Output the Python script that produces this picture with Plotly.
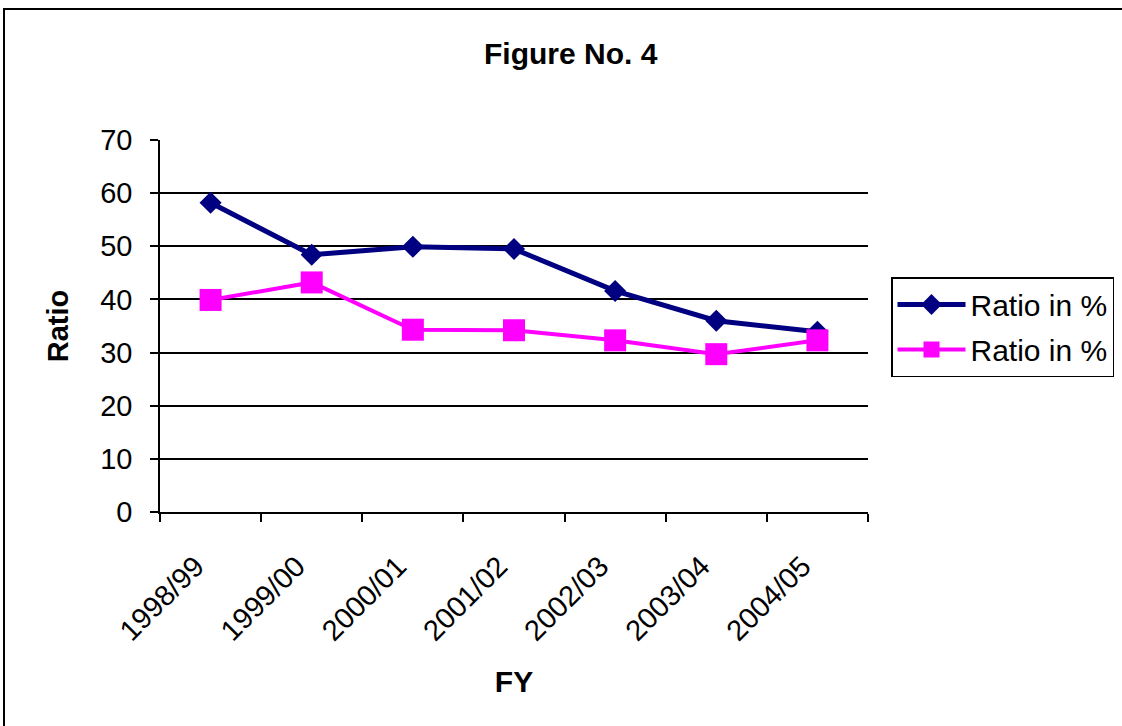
import plotly.graph_objects as go

categories = ["1998/99", "1999/00", "2000/01", "2001/02", "2002/03", "2003/04", "2004/05"]
series_a = [58.2, 48.4, 49.9, 49.5, 41.6, 36.0, 33.9]
series_b = [39.9, 43.2, 34.3, 34.2, 32.3, 29.7, 32.3]
series_names = ["Ratio in %", "Ratio in %"]
y_ticks = [0, 10, 20, 30, 40, 50, 60, 70]

FONT = "Liberation Sans, Arial, sans-serif"

fig = go.Figure()
fig.add_trace(go.Scatter(
    x=categories, y=series_a, name=series_names[0], mode="lines+markers",
    legendgroup="a",
    line=dict(color="#000080", width=5),
    marker=dict(symbol="diamond", size=17, color="#000080"),
))
fig.add_trace(go.Scatter(
    x=categories, y=series_b, name=series_names[1], mode="lines+markers",
    legendgroup="b",
    line=dict(color="#FF00FF", width=4),
    marker=dict(symbol="square", size=22, color="#FF00FF"),
))

fig.update_layout(
    width=1122, height=726,
    margin=dict(l=160, r=254, t=140, b=214, autoexpand=False),
    paper_bgcolor="white", plot_bgcolor="white",
    font=dict(family=FONT, color="black", size=29),
    showlegend=True,
    legend=dict(
        x=(891 - 160) / 708, y=(512 - 277) / 372, xanchor="left", yanchor="top",
        bordercolor="black", borderwidth=1.5, bgcolor="white",
        font=dict(size=30, family=FONT), itemwidth=68,
        tracegroupgap=3,
    ),
    xaxis=dict(
        type="category", range=[-0.5, 6.5], tickson="boundaries",
        ticks="outside", ticklen=8, tickwidth=1.5, tickcolor="black",
        showline=True, linecolor="black", linewidth=1.5,
        showgrid=False, zeroline=False, tickangle=-45,
        tickfont=dict(size=29), ticklabelstandoff=24, ticklabelshift=-15,
        title=dict(text="<b>FY</b>", font=dict(size=30), standoff=25),
        automargin=False,
    ),
    yaxis=dict(
        range=[0, 70], tickvals=y_ticks,
        ticks="outside", ticklen=8, tickwidth=1.5, tickcolor="black",
        showline=True, linecolor="black", linewidth=1.5,
        showgrid=True, gridcolor="black", gridwidth=1.5, zeroline=False,
        tickfont=dict(size=29), ticklabelstandoff=12,
        title=dict(text="<b>Ratio</b>", font=dict(size=29), standoff=23),
        automargin=False,
    ),
    annotations=[dict(
        text="<b>Figure No. 4</b>", xref="paper", yref="paper",
        x=(571 - 160) / 708, y=(512 - 53) / 372, xanchor="center", yanchor="middle",
        showarrow=False, font=dict(size=30, family=FONT),
    )],
    shapes=[dict(
        type="rect", xref="paper", yref="paper",
        x0=(4 - 160) / 708, x1=1.5, y0=-0.7, y1=(512 - 9) / 372,
        line=dict(color="black", width=2), layer="below",
    )],
)

fig.write_html(
    "out.html",
    config={"displayModeBar": False},
    post_script="document.body.style.margin='0px';document.body.style.overflow='hidden';",
)
